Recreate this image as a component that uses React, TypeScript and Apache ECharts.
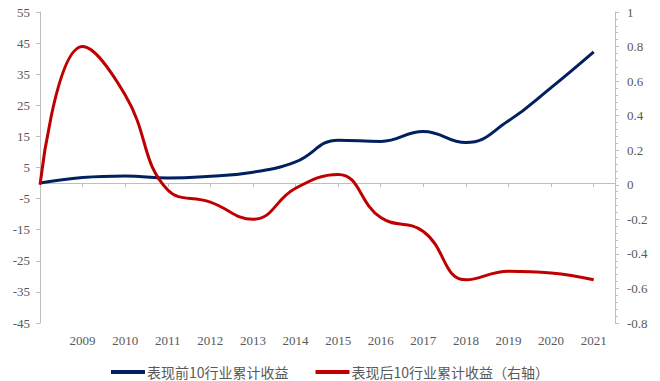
import React, { useEffect, useRef } from "react";
import * as echarts from "echarts";

const years = [2008, 2009, 2010, 2011, 2012, 2013, 2014, 2015, 2016, 2017, 2018, 2019, 2020, 2021];
const xTickYears = [2009, 2010, 2011, 2012, 2013, 2014, 2015, 2016, 2017, 2018, 2019, 2020, 2021];
const topReturns = [0, 1.8, 2.3, 1.6, 2.2, 3.5, 6.8, 13.8, 13.4, 16.6, 13.0, 20.0, 30.7, 42.2];
const bottomReturns = [0, 0.8, 0.52, -0.03, -0.1, -0.2, -0.02, 0.06, -0.19, -0.27, -0.55, -0.5, -0.51, -0.55];
const leftTicks = [-45, -35, -25, -15, -5, 5, 15, 25, 35, 45, 55];
const seriesNames = ["表现前10行业累计收益", "表现后10行业累计收益（右轴）"];

const NUMFONT = "serif";
const CJKFONT = "Noto Sans CJK SC";
const LABEL = "#595959";
const AXIS = "#BFBFBF";

export default function App() {
  const ref = useRef<HTMLDivElement>(null);
  useEffect(() => {
    if (!ref.current) return;
    const chart = echarts.init(ref.current, undefined, { renderer: "svg" });
    chart.setOption({
      animation: false,
      textStyle: { fontFamily: NUMFONT },
      grid: { left: 40, right: 45, top: 12, bottom: 58 },
      legend: {
        top: 360,
        left: "center",
        icon: "rect",
        itemWidth: 34,
        itemHeight: 4,
        itemGap: 27,
        textStyle: { fontSize: 14, color: LABEL, fontFamily: CJKFONT, padding: [0, 0, 0, -3] },
        data: seriesNames,
      },
      xAxis: [
        {
          type: "value",
          position: "bottom",
          min: 2008,
          max: 2021.5,
          axisLine: { show: true, onZero: true, onZeroAxisIndex: 0, lineStyle: { color: AXIS, width: 1 } },
          axisTick: { show: true, length: 4, customValues: xTickYears, lineStyle: { color: AXIS } },
          axisLabel: { show: false },
          splitLine: { show: false },
        },
        {
          type: "value",
          position: "bottom",
          min: 2008,
          max: 2021.5,
          axisLine: { show: false },
          axisTick: { show: false },
          axisLabel: {
            show: true,
            customValues: xTickYears,
            formatter: (v: number) => String(v),
            fontSize: 13,
            color: LABEL,
            fontFamily: NUMFONT,
            margin: 11,
          },
          splitLine: { show: false },
        },
      ],
      yAxis: [
        {
          type: "value",
          position: "left",
          min: -45,
          max: 55,
          axisLine: { show: true, onZero: false, lineStyle: { color: AXIS } },
          axisTick: { show: true, length: 4, customValues: leftTicks, lineStyle: { color: AXIS } },
          axisLabel: { customValues: leftTicks, fontSize: 13, color: LABEL, fontFamily: NUMFONT, margin: 10 },
          splitLine: { show: false },
        },
        {
          type: "value",
          position: "right",
          min: -0.8,
          max: 1,
          interval: 0.2,
          axisLine: { show: true, onZero: false, lineStyle: { color: AXIS } },
          axisTick: { show: true, length: 4, lineStyle: { color: AXIS } },
          minorTick: { show: true, splitNumber: 5, length: 3, lineStyle: { color: AXIS } },
          axisLabel: {
            fontSize: 13,
            color: LABEL,
            fontFamily: NUMFONT,
            margin: 12,
            formatter: (v: number) => String(Math.round(v * 10) / 10),
          },
          splitLine: { show: false },
        },
      ],
      series: [
        {
          name: seriesNames[0],
          type: "line",
          xAxisIndex: 0,
          yAxisIndex: 0,
          smooth: 0.45,
          showSymbol: false,
          symbol: "none",
          lineStyle: { color: "#002060", width: 3 },
          itemStyle: { color: "#002060" },
          data: years.map((y, i) => [y, topReturns[i]]),
        },
        {
          name: seriesNames[1],
          type: "line",
          xAxisIndex: 0,
          yAxisIndex: 1,
          smooth: 0.45,
          showSymbol: false,
          symbol: "none",
          lineStyle: { color: "#C00000", width: 3 },
          itemStyle: { color: "#C00000" },
          data: years.map((y, i) => [y, bottomReturns[i]]),
        },
      ],
    });
    return () => chart.dispose();
  }, []);
  return (
    <div
      ref={ref}
      style={{ position: "fixed", left: 0, top: 0, width: 660, height: 381, background: "#fff" }}
    />
  );
}
